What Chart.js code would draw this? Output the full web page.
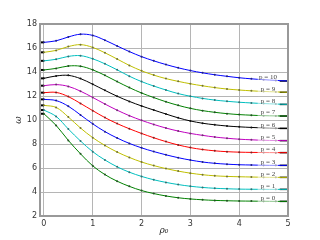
<!DOCTYPE html>
<html><head><meta charset="utf-8">
<script src="https://cdn.jsdelivr.net/npm/chart.js@4/dist/chart.umd.min.js"></script>
<style>html,body{margin:0;padding:0;background:#fff}canvas{display:block}</style>
</head><body>
<canvas id="c" width="320" height="240"></canvas>
<script>
const rho = [0,0.25,0.5,0.75,1,1.25,1.5,1.75,2,2.25,2.5,2.75,3,3.25,3.5,3.75,4,4.25,4.5,4.75,5];
const p0  = [10.52,9.55,8.3,7.18,6.18,5.45,4.9,4.47,4.12,3.87,3.67,3.52,3.42,3.35,3.3,3.27,3.25,3.24,3.23,3.22,3.22];
const p1  = [10.83,10.3,9.25,8.25,7.36,6.67,6.1,5.65,5.3,5.02,4.8,4.62,4.48,4.38,4.31,4.27,4.24,4.23,4.22,4.22,4.22];
const p2  = [11.22,11.05,10.25,9.33,8.53,7.88,7.33,6.88,6.5,6.2,5.95,5.74,5.57,5.44,5.35,5.3,5.27,5.25,5.23,5.22,5.22];
const p3  = [11.72,11.62,11.15,10.42,9.68,9.03,8.5,8.05,7.68,7.37,7.1,6.86,6.66,6.5,6.39,6.32,6.27,6.25,6.23,6.22,6.22];
const p4  = [12.28,12.3,11.95,11.38,10.78,10.2,9.7,9.27,8.88,8.52,8.2,7.92,7.7,7.54,7.43,7.36,7.32,7.3,7.29,7.28,7.28];
const p5  = [12.86,12.95,12.8,12.4,11.88,11.33,10.82,10.36,9.97,9.63,9.33,9.08,8.88,8.72,8.58,8.48,8.4,8.35,8.31,8.29,8.28];
const p6  = [13.47,13.67,13.72,13.45,12.98,12.47,11.98,11.55,11.17,10.83,10.5,10.18,9.92,9.73,9.6,9.5,9.43,9.38,9.34,9.31,9.3];
const p7  = [14.17,14.3,14.5,14.48,14.18,13.72,13.2,12.7,12.25,11.87,11.52,11.22,10.97,10.78,10.64,10.53,10.45,10.4,10.36,10.34,10.33];
const p8  = [14.93,15.06,15.3,15.36,15.1,14.68,14.18,13.65,13.2,12.83,12.5,12.2,11.98,11.8,11.66,11.56,11.48,11.42,11.37,11.33,11.3];
const p9  = [15.64,15.8,16.12,16.28,16.05,15.6,15.08,14.55,14.1,13.74,13.45,13.22,13.02,12.85,12.7,12.58,12.5,12.43,12.38,12.34,12.31];
const p10 = [16.47,16.6,16.92,17.15,17.05,16.65,16.17,15.7,15.28,14.93,14.62,14.35,14.12,13.93,13.77,13.64,13.52,13.43,13.36,13.3,13.25];
const levels = [0,1,2,3,4,5,6,7,8,9,10];
const limits = [3.22,4.22,5.22,6.22,7.28,8.28,9.3,10.33,11.3,12.31,13.25];
const xTicks = [0,1,2,3,4,5];
const yTicks = [2,4,6,8,10,12,14,16,18];

const series = [p0,p1,p2,p3,p4,p5,p6,p7,p8,p9,p10];
const colors = ['#008000','#00bfbf','#bfbf00','#0000ff','#ff0000','#bf00bf','#000000','#008000','#00bfbf','#bfbf00','#0000ff'];
const markColors = ['#205020','#307070','#707030','#202080','#802020','#703070','#111111','#205020','#307070','#707030','#202080'];
const XMIN = -0.08, XMAX = 5, STUB = 4.83;

const datasets = [];
series.forEach((s,i)=>{
  datasets.push({
    data: rho.map((x,k)=>({x:x,y:s[k]})),
    borderColor: colors[i], borderWidth: 1,
    pointRadius: 1, pointBackgroundColor: markColors[i], pointBorderWidth: 0,
    tension: 0.35, fill:false
  });
});
series.forEach((s,i)=>{
  datasets.push({data:[{x:XMIN,y:s[0]},{x:0,y:s[0]}], borderColor:'#000', borderWidth:2, pointRadius:0, fill:false});
  datasets.push({data:[{x:STUB,y:limits[i]},{x:XMAX,y:limits[i]}], borderColor:'#000', borderWidth:1.5, pointRadius:0, fill:false});
});

const deco = {
  id:'deco',
  afterDatasetsDraw(chart){
    const c = chart.ctx, xs = chart.scales.x, ys = chart.scales.y, a = chart.chartArea;
    c.save();
    levels.forEach((p,i)=>{
      const cx = xs.getPixelForValue(4.59);
      const cy = ys.getPixelForValue(limits[i]) - 3.5;
      c.fillStyle = 'rgba(255,255,255,0.55)';
      c.fillRect(cx-10, cy-4, 20, 8.5);
      c.fillStyle = '#444';
      c.font = '7px "Liberation Serif"';
      c.textAlign = 'center'; c.textBaseline = 'middle';
      c.fillText('p = ' + p, cx, cy);
    });
    c.strokeStyle = '#999'; c.lineWidth = 2;
    c.strokeRect(a.left, a.top, a.right-a.left, a.bottom-a.top);
    c.fillStyle = '#222';
    c.font = 'italic 9px "DejaVu Serif"';
    c.textAlign = 'center'; c.textBaseline = 'middle';
    c.fillText('ρ₀', (a.left+a.right)/2, 231);
    c.translate(19, (a.top+a.bottom)/2);
    c.rotate(-Math.PI/2);
    c.fillText('ω', 0, 0);
    c.restore();
  }
};

new Chart(document.getElementById('c'), {
  type:'line',
  data:{datasets},
  options:{
    responsive:false, animation:false, devicePixelRatio:1,
    layout:{padding:{top:24,right:32,left:0,bottom:0}},
    plugins:{legend:{display:false}, tooltip:{enabled:false}},
    scales:{
      x:{type:'linear', min:XMIN, max:XMAX,
        afterBuildTicks(s){ s.ticks = xTicks.map(v=>({value:v})); },
        afterFit(s){ s.height = 24; },
        grid:{color:'#b5b5b5', borderDash:[1,2], drawTicks:false, lineWidth:1},
        border:{display:false},
        ticks:{padding:3, color:'#333', font:{size:8, family:'DejaVu Sans'}, maxRotation:0}
      },
      y:{type:'linear', min:2, max:18,
        afterBuildTicks(s){ s.ticks = yTicks.map(v=>({value:v})); },
        afterFit(s){ s.width = 40; },
        grid:{color:'#b5b5b5', borderDash:[1,2], drawTicks:false, lineWidth:1},
        border:{display:false},
        ticks:{padding:3, color:'#333', font:{size:8, family:'DejaVu Sans'}}
      }
    }
  },
  plugins:[deco]
});
</script>
</body></html>
